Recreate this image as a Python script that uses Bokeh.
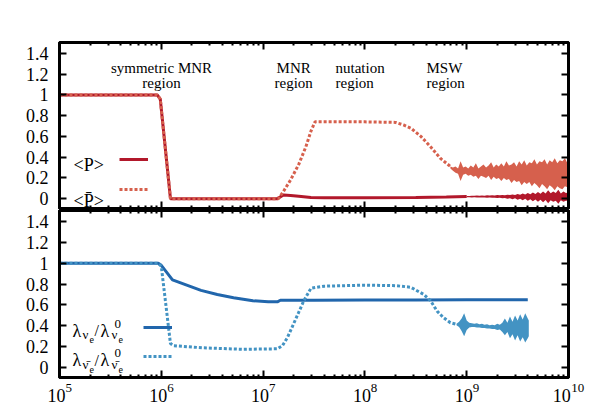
import numpy as np
from bokeh.plotting import figure
from bokeh.layouts import column
from bokeh.models import (Range1d, FixedTicker, LinearAxis, LogAxis, Label,
                          Legend, LegendItem, CustomJSTickFormatter)
from bokeh.embed import file_html
from bokeh.resources import INLINE

# ---------------- data (x given as log10) ----------------
P_logx = [5.0, 5.96, 5.99, 6.09, 7.14, 7.2, 7.27, 7.35, 7.47, 7.6, 8.0, 8.5, 8.8, 9.0]
P_val = [1.0, 1.0, 0.96, 0.0, 0.0, 0.035, 0.03, 0.022, 0.01, 0.009, 0.009, 0.012, 0.016, 0.02]

P_band_logx = [9.0, 9.025, 9.05, 9.075, 9.1, 9.125, 9.15, 9.175, 9.2, 9.225, 9.25, 9.275, 9.3,
               9.325, 9.35, 9.375, 9.4, 9.425, 9.45, 9.475, 9.5, 9.525, 9.55, 9.575, 9.6,
               9.625, 9.65, 9.675, 9.7, 9.725, 9.75, 9.775, 9.8, 9.825, 9.85, 9.875, 9.9,
               9.925, 9.95, 9.975, 10.0]
P_band_hi = [0.025, 0.026, 0.028, 0.027, 0.03, 0.028, 0.031, 0.029, 0.032, 0.03,
             0.033, 0.031, 0.034, 0.032, 0.036, 0.033, 0.038, 0.034, 0.04, 0.036,
             0.045, 0.038, 0.05, 0.04, 0.055, 0.042, 0.06, 0.045, 0.065, 0.048,
             0.07, 0.05, 0.08, 0.052, 0.07, 0.055, 0.085, 0.05, 0.07, 0.055, 0.06]
P_band_lo = [0.014, 0.013, 0.012, 0.013, 0.011, 0.012, 0.01, 0.011, 0.009, 0.01,
             0.008, 0.009, 0.006, 0.008, 0.004, 0.006, 0.0, 0.005, -0.005, 0.003,
             -0.01, 0.0, -0.015, -0.002, -0.02, -0.005, -0.025, -0.008, -0.03, -0.01,
             -0.035, -0.012, -0.045, -0.015, -0.03, -0.02, -0.05, -0.015, -0.03, -0.02, -0.02]

Pb_logx = [5.0, 5.96, 5.99, 6.09, 7.15, 7.2, 7.27, 7.35, 7.42, 7.47, 7.51, 7.6, 8.0, 8.3,
           8.38, 8.45, 8.55, 8.645, 8.74, 8.84]
Pb_val = [1.0, 1.0, 0.96, 0.0, 0.0, 0.07, 0.18, 0.33, 0.5, 0.65, 0.74, 0.74, 0.74, 0.735,
          0.71, 0.68, 0.60, 0.50, 0.39, 0.31]

Pb_band_logx = [8.84, 8.865, 8.89, 8.915, 8.94, 8.965, 8.99, 9.015, 9.04, 9.065, 9.09, 9.115,
                9.14, 9.165, 9.19, 9.215, 9.24, 9.265, 9.29, 9.315, 9.34, 9.365, 9.39, 9.415,
                9.44, 9.465, 9.49, 9.515, 9.54, 9.565, 9.59, 9.615, 9.64, 9.665, 9.69, 9.715,
                9.74, 9.765, 9.79, 9.815, 9.84, 9.865, 9.89, 9.915, 9.94, 9.965, 9.99, 10.0]
Pb_band_hi = [0.31, 0.30, 0.31, 0.29, 0.36, 0.30, 0.31, 0.29, 0.32, 0.30,
              0.34, 0.29, 0.31, 0.33, 0.30, 0.32, 0.35, 0.30, 0.33, 0.31,
              0.34, 0.31, 0.36, 0.32, 0.33, 0.35, 0.31, 0.36, 0.33, 0.37,
              0.32, 0.35, 0.34, 0.38, 0.33, 0.36, 0.35, 0.38, 0.33, 0.37,
              0.35, 0.39, 0.34, 0.37, 0.36, 0.39, 0.34, 0.32]
Pb_band_lo = [0.29, 0.27, 0.25, 0.24, 0.17, 0.23, 0.24, 0.22, 0.23, 0.21,
              0.22, 0.19, 0.22, 0.21, 0.20, 0.22, 0.18, 0.21, 0.19, 0.20,
              0.17, 0.20, 0.18, 0.19, 0.15, 0.18, 0.16, 0.17, 0.13, 0.16,
              0.14, 0.16, 0.12, 0.15, 0.13, 0.10, 0.14, 0.12, 0.09, 0.13,
              0.11, 0.08, 0.12, 0.10, 0.09, 0.12, 0.11, 0.13]

L_logx = [5.0, 5.97, 6.0, 6.11, 6.25, 6.39, 6.55, 6.71, 6.9, 7.05, 7.14, 7.17, 7.5, 8.0, 8.5, 9.0, 9.6]
L_val = [1.0, 1.0, 0.98, 0.84, 0.79, 0.74, 0.70, 0.67, 0.64, 0.63, 0.63, 0.645, 0.646, 0.647,
         0.648, 0.65, 0.65]

Lb_logx = [5.0, 5.97, 6.0, 6.09, 6.12, 6.4, 6.8, 7.14, 7.19, 7.24, 7.30, 7.35, 7.40, 7.47, 7.6,
           8.0, 8.3, 8.45, 8.58, 8.645, 8.71, 8.77, 8.84, 8.9]
Lb_val = [1.0, 1.0, 0.97, 0.23, 0.21, 0.19, 0.175, 0.18, 0.21, 0.29, 0.42, 0.53, 0.64, 0.76, 0.78,
          0.79, 0.785, 0.77, 0.70, 0.64, 0.54, 0.48, 0.43, 0.415]

Lb_band_logx = [8.9, 8.925, 8.95, 8.975, 9.0, 9.025, 9.05, 9.075, 9.1, 9.125, 9.15, 9.175,
                9.2, 9.225, 9.25, 9.275, 9.3, 9.325, 9.35, 9.375, 9.4, 9.425, 9.45, 9.475,
                9.5, 9.525, 9.55, 9.575, 9.6, 9.61]
Lb_band_hi = [0.42, 0.44, 0.47, 0.52, 0.45, 0.43, 0.425, 0.42, 0.425, 0.415,
              0.42, 0.41, 0.415, 0.405, 0.41, 0.405, 0.42, 0.41, 0.43, 0.47,
              0.43, 0.49, 0.44, 0.50, 0.45, 0.51, 0.46, 0.52, 0.47, 0.45]
Lb_band_lo = [0.405, 0.39, 0.35, 0.30, 0.36, 0.385, 0.39, 0.39, 0.385, 0.385,
              0.38, 0.38, 0.375, 0.375, 0.37, 0.37, 0.36, 0.365, 0.34, 0.31,
              0.34, 0.28, 0.32, 0.26, 0.31, 0.25, 0.29, 0.24, 0.28, 0.30]

y_ticks = [0, 0.2, 0.4, 0.6, 0.8, 1, 1.2, 1.4]
y_tick_labels = ["0", "0.2", "0.4", "0.6", "0.8", "1", "1.2", "1.4"]
x_ticks = [10**5, 10**6, 10**7, 10**8, 10**9, 10**10]
x_tick_base = "10"
x_tick_exps = ["5", "6", "7", "8", "9", "10"]

C_P = "#b2182b"
C_PB = "#d6604d"
C_L = "#2166ac"
C_LB = "#4393c3"
FONT = "Liberation Serif"
Y0, Y1 = -0.095, 1.505

def X(lx):
    return [10.0 ** v for v in lx]

minor = [k * 10.0 ** d for d in range(5, 10) for k in range(2, 10)]


def blank():
    return CustomJSTickFormatter(code="return ''")


def make_fig(top):
    p = figure(x_axis_type="log", output_backend="svg", toolbar_location=None,
               frame_width=509, frame_height=166 if top else 167,
               x_range=Range1d(1e5, 1e10), y_range=Range1d(Y0, Y1),
               min_border_left=59, min_border_right=22,
               min_border_top=42 if top else 0, min_border_bottom=2 if top else 34)
    p.grid.visible = False
    p.outline_line_color = "black"
    p.outline_line_width = 3
    p.background_fill_color = "white"
    p.border_fill_color = "white"
    xt = FixedTicker(ticks=x_ticks, minor_ticks=minor)
    yt = FixedTicker(ticks=y_ticks, minor_ticks=[])
    p.xaxis.ticker = xt
    p.xaxis.formatter = blank()
    p.yaxis.ticker = yt
    p.yaxis.major_label_overrides = dict(zip(y_ticks, y_tick_labels))
    p.add_layout(LinearAxis(ticker=yt, formatter=blank()), "right")
    p.add_layout(LogAxis(ticker=xt, formatter=blank()), "above")
    for ax in p.axis:
        ax.axis_line_color = "black"
        ax.axis_line_width = 3
        ax.major_tick_in = 7
        ax.major_tick_out = 0
        ax.minor_tick_in = 3
        ax.minor_tick_out = 0
        ax.major_tick_line_width = 2
        ax.minor_tick_line_width = 2
        ax.major_label_text_font = FONT
        ax.major_label_text_font_size = "18px"
        ax.major_label_text_color = "black"
        ax.major_label_standoff = 0
    p.yaxis[0].major_label_standoff = 11
    return p


def txt(p, x, y, s, size="15px", align="left"):
    p.add_layout(Label(x=10 ** x, y=y, text=s, text_font=FONT, text_font_size=size,
                       text_align=align, text_baseline="alphabetic", text_color="black"))


# ---------------- top panel ----------------
p1 = make_fig(True)
r_p = p1.line(X(P_logx), P_val, line_color=C_P, line_width=3)
p1.varea(X(P_band_logx), P_band_lo, P_band_hi, fill_color=C_P)
p1.varea(X(Pb_band_logx), Pb_band_lo, Pb_band_hi, fill_color=C_PB)
r_pb = p1.line(X(Pb_logx), Pb_val, line_color=C_PB, line_width=3, line_dash="3 2")

leg1 = Legend(items=[LegendItem(label=" ", renderers=[r_p]),
                     LegendItem(label=" ", renderers=[r_pb])],
              location=(60, 9), glyph_width=29, glyph_height=20, spacing=10,
              label_text_font_size="10px", label_height=10, label_width=5,
              padding=0, margin=0, border_line_color=None,
              background_fill_alpha=0)
p1.add_layout(leg1)

txt(p1, 6.002, 1.256, "symmetric MNR", align="center")
txt(p1, 6.002, 1.112, "region", align="center")
txt(p1, 7.30, 1.256, "MNR", align="center")
txt(p1, 7.30, 1.112, "region", align="center")
txt(p1, 7.711, 1.256, "nutation")
txt(p1, 7.711, 1.112, "region")
txt(p1, 8.605, 1.256, "MSW")
txt(p1, 8.605, 1.112, "region")
txt(p1, 5.1375, 0.32, "<P>", size="18px")
txt(p1, 5.1375, -0.022, "<P\u0304>", size="18px")

# ---------------- bottom panel ----------------
p2 = make_fig(False)
p2.varea(X(Lb_band_logx), Lb_band_lo, Lb_band_hi, fill_color=C_LB)
r_l = p2.line(X(L_logx), L_val, line_color=C_L, line_width=3)
r_lb = p2.line(X(Lb_logx), Lb_val, line_color=C_LB, line_width=3, line_dash="3 2")

leg2 = Legend(items=[LegendItem(label=" ", renderers=[r_l]),
                     LegendItem(label=" ", renderers=[r_lb])],
              location=(84, 11), glyph_width=29, glyph_height=20, spacing=9,
              label_text_font_size="10px", label_height=10, label_width=5,
              padding=0, margin=0, border_line_color=None,
              background_fill_alpha=0)
p2.add_layout(leg2)

for dy, nu in [(0.0, "\u03bd"), (-0.281, "\u03bd\u0304")]:
    txt(p2, 5.128, 0.352 + dy, "\u03bb", size="18px")
    txt(p2, 5.226, 0.314 + dy, nu, size="13px")
    txt(p2, 5.295, 0.267 + dy, "e", size="10px")
    txt(p2, 5.344, 0.352 + dy, "/", size="16px")
    txt(p2, 5.403, 0.352 + dy, "\u03bb", size="18px")
    txt(p2, 5.540, 0.419 + dy, "0", size="13px")
    txt(p2, 5.511, 0.314 + dy, nu, size="13px")
    txt(p2, 5.580, 0.267 + dy, "e", size="10px")

# x tick labels "10^n": exponents on one axis row, "10" on the next row,
# side by side through fixed-width unicode spaces (centred labels)
EXP_PAD = "\u2003\u2005\u2006"          # ~ width of "10" at 18px, in 13px font
BASE_PAD = {1: "\u2006\u2006", 2: "\u2002\u2005"}  # ~ width of exponent, in 18px font
exp_labels = [EXP_PAD + e for e in x_tick_exps]
base_labels = [x_tick_base + BASE_PAD[len(e)] for e in x_tick_exps]
for labels, size, standoff in [(exp_labels, "13px", 2), (base_labels, "18px", -12)]:
    ax = LogAxis(ticker=FixedTicker(ticks=x_ticks, minor_ticks=[]),
                 major_label_overrides=dict(zip(x_ticks, labels)),
                 major_label_text_font=FONT, major_label_text_font_size=size,
                 major_label_text_color="black", major_label_standoff=standoff,
                 axis_line_color=None, major_tick_line_color=None,
                 minor_tick_line_color=None, major_tick_in=0, major_tick_out=0,
                 minor_tick_in=0, minor_tick_out=0)
    p2.add_layout(ax, "below")

layout = column(p1, p2, spacing=0)
open("out.html", "w").write(file_html(layout, INLINE))
